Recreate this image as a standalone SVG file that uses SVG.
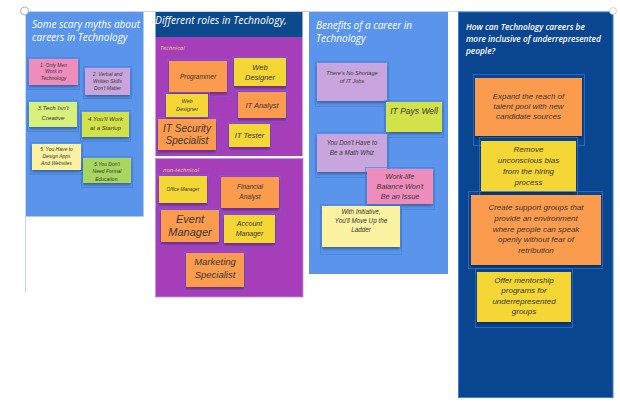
<svg xmlns="http://www.w3.org/2000/svg" width="620" height="402" viewBox="0 0 620 402">
  <defs>
    <filter id="shadow" x="-10%" y="-10%" width="120%" height="140%">
      <feDropShadow dx="0" dy="2" stdDeviation="1.4" flood-color="#000" flood-opacity="0.35"/>
    </filter>
  </defs>
  <style>
    .col-title { font-family: "Open Sans", "Liberation Sans", sans-serif; font-style: italic; fill: #ffffff; }
    .sub { font-family: "Open Sans", "Liberation Sans", sans-serif; font-style: italic; fill: #f6c978; font-size: 6px; }
    .note rect.paper { filter: url(#shadow); }
    .note text { font-family: "Liberation Sans", "DejaVu Sans", sans-serif; font-style: italic; fill: #3a3534; text-anchor: middle; }
    .sel { fill: none; stroke: #3d7fe8; stroke-width: 1; opacity: 0.65; }
    .sel-p { fill: none; stroke: #6d63e6; stroke-width: 1; opacity: 0.7; }
    .sel-n { fill: none; stroke: #2f6fd6; stroke-width: 1; opacity: 0.8; }
    .orange { fill: #fb9b4d; }
    .yellow { fill: #f4d635; }
    .pink { fill: #ee8dbb; }
    .lav { fill: #c9a5dd; }
    .lime { fill: #d8f07e; }
    .ygreen { fill: #d2e24a; }
    .pale { fill: #fbf2a2; }
    .green { fill: #a8d75e; }
  </style>

  <!-- board frame -->
  <g id="frame">
    <line x1="25" y1="11.5" x2="613" y2="11.5" stroke="#c4d2ea" stroke-width="1"/>
    <line x1="25.5" y1="11" x2="25.5" y2="292" stroke="#c4d6f5" stroke-width="1"/>
  </g>

  <!-- column: myths -->
  <g id="col-myths">
    <rect x="26" y="12" width="117.5" height="204.5" fill="#5a95eb"/>
    <text class="col-title" font-size="10"><tspan x="32" y="28">Some scary myths about</tspan><tspan x="32" y="41">careers in Technology</tspan></text>
  </g>

  <!-- column: roles -->
  <g id="col-roles">
    <rect x="155.5" y="12" width="147" height="25" fill="#0c4a8e"/>
    <rect x="155.5" y="37" width="147" height="119" fill="#a63eb9"/>
    <rect x="155.5" y="158.5" width="147.5" height="138.5" fill="#a63eb9" stroke="#c58ee8" stroke-width="0.8"/>
    <text class="col-title" font-size="10.3"><tspan x="155" y="24">Different roles in Technology,</tspan></text>
    <text class="sub" x="160" y="50">Technical</text>
    <text class="sub" x="163" y="172">non-technical</text>
  </g>

  <!-- column: benefits -->
  <g id="col-benefits">
    <rect x="309" y="12" width="139" height="262" fill="#5a95eb"/>
    <text class="col-title" font-size="10"><tspan x="316" y="29">Benefits of a career in</tspan><tspan x="316" y="42">Technology</tspan></text>
  </g>

  <!-- column: inclusion -->
  <g id="col-inclusion">
    <rect x="458.5" y="12" width="154.5" height="385.5" fill="#0a468f" stroke="#3a7ce0" stroke-width="1"/>
    <text class="col-title" font-size="8.3" font-weight="600"><tspan x="466" y="30">How can Technology careers be</tspan><tspan x="466" y="42">more inclusive of underrepresented</tspan><tspan x="466" y="54">people?</tspan></text>
  </g>

  <!-- myths notes -->
  <g id="myth-1" class="note">
    <rect class="sel" x="27.5" y="57.5" width="52" height="32"/>
    <rect class="paper pink" x="29" y="59" width="49" height="26"/>
    <text font-size="5"><tspan x="53.5" y="66.5">1. Only Men</tspan><tspan x="53.5" y="73">Work in</tspan><tspan x="53.5" y="80">Technology</tspan></text>
  </g>
  <g id="myth-2" class="note">
    <rect class="sel" x="83.5" y="66.5" width="48" height="32"/>
    <rect class="paper lav" x="85" y="68" width="45" height="27"/>
    <text font-size="5"><tspan x="107.5" y="75.5">2. Verbal and</tspan><tspan x="107.5" y="82.5">Written Skills</tspan><tspan x="107.5" y="90">Don't Matter</tspan></text>
  </g>
  <g id="myth-3" class="note">
    <rect class="sel" x="27.5" y="100.5" width="51" height="31"/>
    <rect class="paper lime" x="29" y="102" width="48" height="25"/>
    <text font-size="6.2"><tspan x="53" y="110">3.Tech Isn't</tspan><tspan x="53" y="120">Creative</tspan></text>
  </g>
  <g id="myth-4" class="note">
    <rect class="sel" x="80.5" y="110.5" width="50" height="31"/>
    <rect class="paper ygreen" x="82" y="112" width="47" height="25"/>
    <text font-size="6"><tspan x="105.5" y="121">4.You'll Work</tspan><tspan x="105.5" y="130">at a Startup</tspan></text>
  </g>
  <g id="myth-5" class="note">
    <rect class="sel" x="30.5" y="142.5" width="52" height="32"/>
    <rect class="paper pale" x="32" y="144" width="49" height="26"/>
    <text font-size="5"><tspan x="56.5" y="150.5">5. You Have to</tspan><tspan x="56.5" y="157.5">Design Apps</tspan><tspan x="56.5" y="164.5">And Websites</tspan></text>
  </g>
  <g id="myth-6" class="note">
    <rect class="sel" x="81.5" y="156.5" width="51" height="31"/>
    <rect class="paper green" x="83" y="158" width="48" height="25"/>
    <text font-size="5"><tspan x="107" y="165.5">6.You Don't</tspan><tspan x="107" y="173">Need Formal</tspan><tspan x="107" y="180.5">Education.</tspan></text>
  </g>

  <!-- technical roles -->
  <g id="role-programmer" class="note">
    <rect class="sel-p" x="167.5" y="59.5" width="61" height="37"/>
    <rect class="paper orange" x="169" y="61" width="58" height="31"/>
    <text font-size="6.5"><tspan x="198" y="78.5">Programmer</tspan></text>
  </g>
  <g id="role-web-designer-a" class="note">
    <rect class="sel-p" x="232.5" y="57" width="55" height="33"/>
    <rect class="paper yellow" x="234" y="58" width="52" height="28"/>
    <text font-size="7.5"><tspan x="260" y="69.5">Web</tspan><tspan x="260" y="79.5">Designer</tspan></text>
  </g>
  <g id="role-web-designer-b" class="note">
    <rect class="sel-p" x="164.5" y="92.5" width="45" height="28"/>
    <rect class="paper yellow" x="166" y="94" width="42" height="23"/>
    <text font-size="5.5"><tspan x="187" y="102.5">Web</tspan><tspan x="187" y="111">Designer</tspan></text>
  </g>
  <g id="role-it-analyst" class="note">
    <rect class="sel-p" x="236.5" y="90.5" width="51" height="31"/>
    <rect class="paper orange" x="238" y="92" width="48" height="26"/>
    <text font-size="7.5"><tspan x="262" y="107.5">IT Analyst</tspan></text>
  </g>
  <g id="role-it-security" class="note">
    <rect class="sel-p" x="156.5" y="117.5" width="61" height="37"/>
    <rect class="paper orange" x="158" y="119" width="58" height="31"/>
    <text font-size="10"><tspan x="187" y="131.5">IT Security</tspan><tspan x="187" y="143.5">Specialist</tspan></text>
  </g>
  <g id="role-it-tester" class="note">
    <rect class="sel-p" x="227.5" y="122.5" width="44" height="28"/>
    <rect class="paper yellow" x="229" y="124" width="41" height="23"/>
    <text font-size="7.5"><tspan x="249.5" y="137.5">IT Tester</tspan></text>
  </g>

  <!-- non-technical roles -->
  <g id="role-office-manager" class="note">
    <rect class="sel-p" x="157.5" y="174.5" width="51" height="32"/>
    <rect class="paper yellow" x="159" y="176" width="48" height="27"/>
    <text font-size="4.8"><tspan x="183" y="190.5">Office Manager</tspan></text>
  </g>
  <g id="role-financial-analyst" class="note">
    <rect class="sel-p" x="219.5" y="175.5" width="61" height="36"/>
    <rect class="paper orange" x="221" y="177" width="58" height="31"/>
    <text font-size="6.5"><tspan x="250" y="189">Financial</tspan><tspan x="250" y="198.5">Analyst</tspan></text>
  </g>
  <g id="role-event-manager" class="note">
    <rect class="sel-p" x="159.5" y="208.5" width="61" height="37"/>
    <rect class="paper orange" x="161" y="210" width="58" height="32"/>
    <text font-size="11"><tspan x="190" y="223">Event</tspan><tspan x="190" y="236">Manager</tspan></text>
  </g>
  <g id="role-account-manager" class="note">
    <rect class="sel-p" x="222.5" y="213.5" width="54" height="33"/>
    <rect class="paper yellow" x="224" y="215" width="51" height="28"/>
    <text font-size="7"><tspan x="249.5" y="226">Account</tspan><tspan x="249.5" y="236">Manager</tspan></text>
  </g>
  <g id="role-marketing-specialist" class="note">
    <rect class="sel-p" x="184.5" y="251.5" width="61" height="39"/>
    <rect class="paper orange" x="186" y="253" width="58" height="34"/>
    <text font-size="9.5"><tspan x="215" y="265">Marketing</tspan><tspan x="215" y="277.5">Specialist</tspan></text>
  </g>

  <!-- benefits notes -->
  <g id="benefit-no-shortage" class="note">
    <rect class="sel" x="315.5" y="61.5" width="73" height="45"/>
    <rect class="paper lav" x="317" y="63" width="70" height="38"/>
    <text font-size="5.6"><tspan x="352" y="74.5">There's No Shortage</tspan><tspan x="352" y="82.5">of IT Jobs</tspan></text>
  </g>
  <g id="benefit-pays-well" class="note">
    <rect class="sel" x="384.5" y="100.5" width="59" height="37"/>
    <rect class="paper ygreen" x="386" y="102" width="56" height="30"/>
    <text font-size="8.5"><tspan x="414" y="114">IT Pays Well</tspan></text>
  </g>
  <g id="benefit-math" class="note">
    <rect class="sel" x="315.5" y="132.5" width="73" height="45"/>
    <rect class="paper lav" x="317" y="134" width="70" height="38"/>
    <text font-size="6.3"><tspan x="352" y="145">You Don't Have to</tspan><tspan x="352" y="155">Be a Math Whiz</tspan></text>
  </g>
  <g id="benefit-work-life" class="note">
    <rect class="sel" x="365.5" y="167.5" width="69" height="42"/>
    <rect class="paper pink" x="367" y="169" width="66" height="35"/>
    <text font-size="7.3"><tspan x="400" y="178.5">Work-life</tspan><tspan x="400" y="188.5">Balance Won't</tspan><tspan x="400" y="198.5">Be an Issue</tspan></text>
  </g>
  <g id="benefit-initiative" class="note">
    <rect class="sel" x="320.5" y="204.5" width="81" height="50"/>
    <rect class="paper pale" x="322" y="206" width="78" height="41"/>
    <text font-size="6.3"><tspan x="361" y="214">With Initiative,</tspan><tspan x="361" y="223">You'll Move Up the</tspan><tspan x="361" y="232">Ladder</tspan></text>
  </g>

  <!-- inclusion notes -->
  <g id="idea-expand" class="note">
    <rect class="sel-n" x="473.5" y="74.5" width="111" height="71"/>
    <rect class="paper orange" x="475" y="78" width="107" height="58"/>
    <text font-size="8"><tspan x="528.5" y="98.5">Expand the reach of</tspan><tspan x="528.5" y="108.5">talent pool with new</tspan><tspan x="528.5" y="118.5">candidate sources</tspan></text>
  </g>
  <g id="idea-bias" class="note">
    <rect class="sel-n" x="479.5" y="137.5" width="98" height="59"/>
    <rect class="paper yellow" x="481" y="141" width="95" height="51"/>
    <text font-size="8"><tspan x="528.5" y="151.5">Remove</tspan><tspan x="528.5" y="162.5">unconscious bias</tspan><tspan x="528.5" y="173.5">from the hiring</tspan><tspan x="528.5" y="184.5">process</tspan></text>
  </g>
  <g id="idea-support" class="note">
    <rect class="sel-n" x="468.5" y="191.5" width="134" height="77"/>
    <rect class="paper orange" x="471" y="195" width="130" height="70"/>
    <text font-size="8"><tspan x="536" y="209.5">Create support groups that</tspan><tspan x="536" y="220.5">provide an environment</tspan><tspan x="536" y="231.5">where people can speak</tspan><tspan x="536" y="242">openly without fear of</tspan><tspan x="536" y="253">retribution</tspan></text>
  </g>
  <g id="idea-mentorship" class="note">
    <rect class="sel-n" x="475.5" y="268.5" width="97" height="59"/>
    <rect class="paper yellow" x="477" y="272" width="94" height="50"/>
    <text font-size="8"><tspan x="524" y="282.5">Offer mentorship</tspan><tspan x="524" y="293">programs for</tspan><tspan x="524" y="303.5">underrepresented</tspan><tspan x="524" y="314">groups</tspan></text>
  </g>

  <!-- selection handles -->
  <g id="handles">
    <circle cx="24.5" cy="11" r="4" fill="#ffffff" stroke="#9a9a9a" stroke-width="0.8"/>
    <circle cx="613" cy="11" r="3.5" fill="#ffffff" stroke="#b5b5b5" stroke-width="0.6"/>
  </g>
</svg>
